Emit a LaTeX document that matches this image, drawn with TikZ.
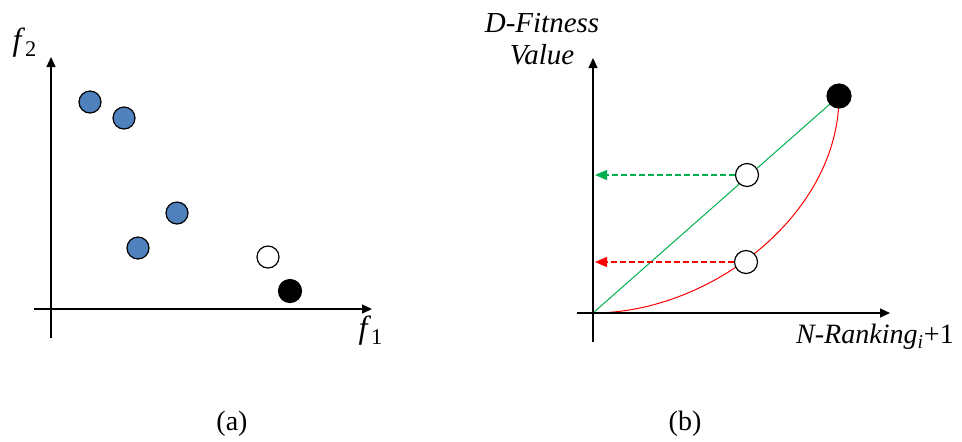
\documentclass[tikz,border=0pt]{standalone}
\usepackage{fontspec}
\setmainfont{Liberation Serif}
\usepackage{xcolor}
\usetikzlibrary{arrows.meta,backgrounds}
\definecolor{dotblue}{HTML}{4F81BD}
\definecolor{linegreen}{HTML}{00B050}
\definecolor{linered}{HTML}{FF0000}

\begin{document}
\begin{tikzpicture}[x=0.5pt, y=-0.5pt, font=\fontsize{14}{16}\selectfont,
  axis/.style={line width=0.65pt, -{Triangle[length=5pt,width=4.5pt]}},
  dot/.style={circle, draw, line width=0.6pt, inner sep=0pt, minimum size=11pt},
  bluedot/.style={dot, fill=dotblue},
  blackdot/.style={dot, fill=black, minimum size=11.5pt},
  guide/.style={dash pattern=on 3pt off 1.5pt, line width=0.6pt,
    -{Triangle[length=6pt,width=5pt]}}]
  \useasboundingbox (0,0) rectangle (962,441);

  % Left plot: axes
  \coordinate (lx0) at (34,309);
  \coordinate (lx1) at (372,309);
  \coordinate (ly0) at (51,338);
  \coordinate (ly1) at (51,57);
  \draw[axis] (lx0) -- (lx1);
  \draw[axis] (ly0) -- (ly1);
  \node (ftwo) at (25,43) {\fontsize{16}{18}\selectfont\textit{f}\textsubscript{2}};
  \node (fone) at (371,331) {\fontsize{16}{18}\selectfont\textit{f}\textsubscript{1}};

  % Left plot: points
  \node[bluedot] (pa) at (90,102) {};
  \node[bluedot] (pb) at (124,118) {};
  \node[bluedot] (pc) at (177,213) {};
  \node[bluedot] (pd) at (138,248) {};
  \node[dot, fill=white] (pe) at (268,257) {};
  \node[blackdot] (pf) at (290,291) {};

  % Right plot: axes
  \coordinate (o) at (593,313);
  \coordinate (rx0) at (577,313);
  \coordinate (rx1) at (890,313);
  \coordinate (ry0) at (593,342);
  \coordinate (ry1) at (593,58);
  \draw[axis] (rx0) -- (rx1);
  \draw[axis] (ry0) -- (ry1);
  \node[align=center, font=\fontsize{14.5}{16}\selectfont\itshape] (dfit) at (542,39) {D-Fitness\\Value};
  \node (rank) at (875,337) {\textit{N-Ranking}\textsubscript{\textit{i}}+1};

  % Right plot: points
  \node[blackdot, minimum size=12pt] (top) at (839,96) {};
  \node[dot, fill=white, minimum width=10.5pt, minimum height=11.5pt] (gw) at (747,175) {};
  \node[dot, fill=white, minimum width=10.5pt, minimum height=11.5pt] (rw) at (746,262) {};
  \coordinate (gt) at (595,175);
  \coordinate (rt) at (595,262);

  % Curves behind the points
  \begin{scope}[on background layer]
    \draw[linegreen, line width=0.5pt] (o) -- (top.center);
    \draw[linered, line width=0.5pt] (o) .. controls (710,313) and (839,215) .. (top.center);
  \end{scope}

  % Arrows
  \draw[guide, linegreen] (gw.west) -- (gt);
  \draw[guide, linered] (rw.west) -- (rt);

  % Captions
  \node (capa) at (232,424) {(a)};
  \node (capb) at (685,424) {(b)};
\end{tikzpicture}
\end{document}
